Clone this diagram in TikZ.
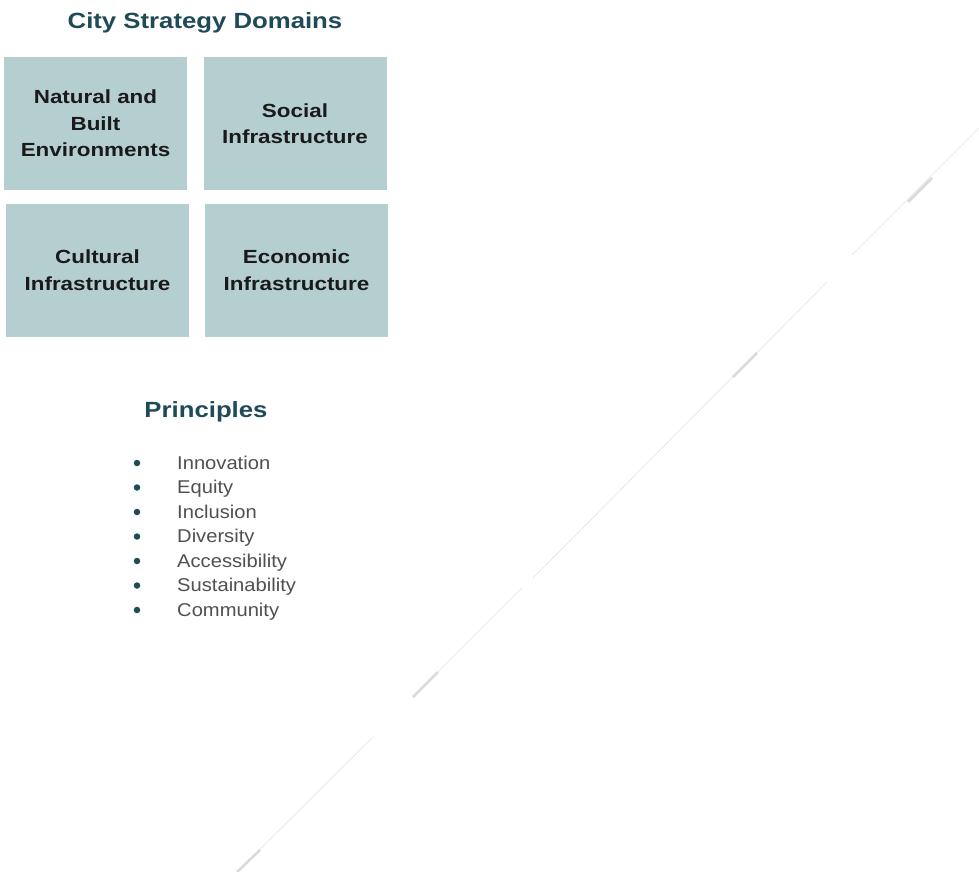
\documentclass[tikz,border=0pt]{standalone}
\usepackage{fontspec}
\setmainfont{Liberation Sans}
\newfontfamily\tfont[FakeStretch=1.17]{Liberation Sans}
\newfontfamily\bxfont[FakeStretch=1.18]{Liberation Sans}
\newfontfamily\lfont[FakeStretch=1.09]{Liberation Sans}
\definecolor{boxfill}{HTML}{B5CFD0}
\definecolor{headteal}{HTML}{1E4B57}
\definecolor{listgray}{HTML}{505050}
\definecolor{boxtext}{HTML}{1A1A1A}
\tikzset{
  heading/.style={anchor=base, text=headteal, font=\tfont\bfseries\fontsize{22}{26}\selectfont, inner sep=0},
  domainbox/.style={rectangle, fill=boxfill, minimum width=183pt, minimum height=133pt, inner sep=0, align=center, text=boxtext, font=\bxfont\bfseries\fontsize{19}{26.5}\selectfont},
  item/.style={anchor=base west, text=listgray, font=\lfont\fontsize{18.5}{22}\selectfont, inner sep=0},
  bulletdot/.style={circle, fill=headteal, minimum size=6.5pt, inner sep=0},
  faint/.style={draw=black!10, line width=0.6pt},
  thickseg/.style={draw=black!14, line width=2.6pt}
}
\begin{document}
\begin{tikzpicture}[x=1pt,y=-1pt]
\useasboundingbox[fill=white] (0,0) rectangle (979,872);
\node[heading] (title) at (205,29) {City Strategy Domains};
\node[domainbox] (nat) at (95.5,123.5) {Natural and\\Built\\Environments};
\node[domainbox] (soc) at (295,123.5) {Social\\Infrastructure};
\node[domainbox] (cul) at (97.5,270) {Cultural\\Infrastructure};
\node[domainbox] (eco) at (296.5,270) {Economic\\Infrastructure};
\node[heading] (princ) at (206,417) {Principles};
\foreach \t [count=\i from 0] in {Innovation,Equity,Inclusion,Diversity,Accessibility,Sustainability,Community}{
  \node[bulletdot] (b\i) at (137,{469+24.5*\i-6}) {};
  \node[item] (it\i) at (177,{469+24.5*\i}) {\t};
}
% faint diagonal stroke
\coordinate (d0) at (979,128);
\coordinate (d1) at (852,255);
\coordinate (d2) at (827,282);
\coordinate (d3) at (533,578);
\coordinate (d4) at (522,588);
\coordinate (d5) at (413,697);
\coordinate (d6) at (373,737);
\coordinate (d7) at (237,872);
\draw[faint] (d0) -- (d1);
\draw[faint] (d2) -- (d3);
\draw[faint] (d4) -- (d5);
\draw[faint] (d6) -- (d7);
\coordinate (t1a) at (932,178); \coordinate (t1b) at (908,202);
\coordinate (t2a) at (757,353); \coordinate (t2b) at (733,377);
\coordinate (t3a) at (438,672); \coordinate (t3b) at (413,697);
\coordinate (t4a) at (260,850); \coordinate (t4b) at (237,872);
\draw[thickseg] (t1a) -- (t1b);
\draw[thickseg] (t2a) -- (t2b);
\draw[thickseg] (t3a) -- (t3b);
\draw[thickseg] (t4a) -- (t4b);
\end{tikzpicture}
\end{document}
